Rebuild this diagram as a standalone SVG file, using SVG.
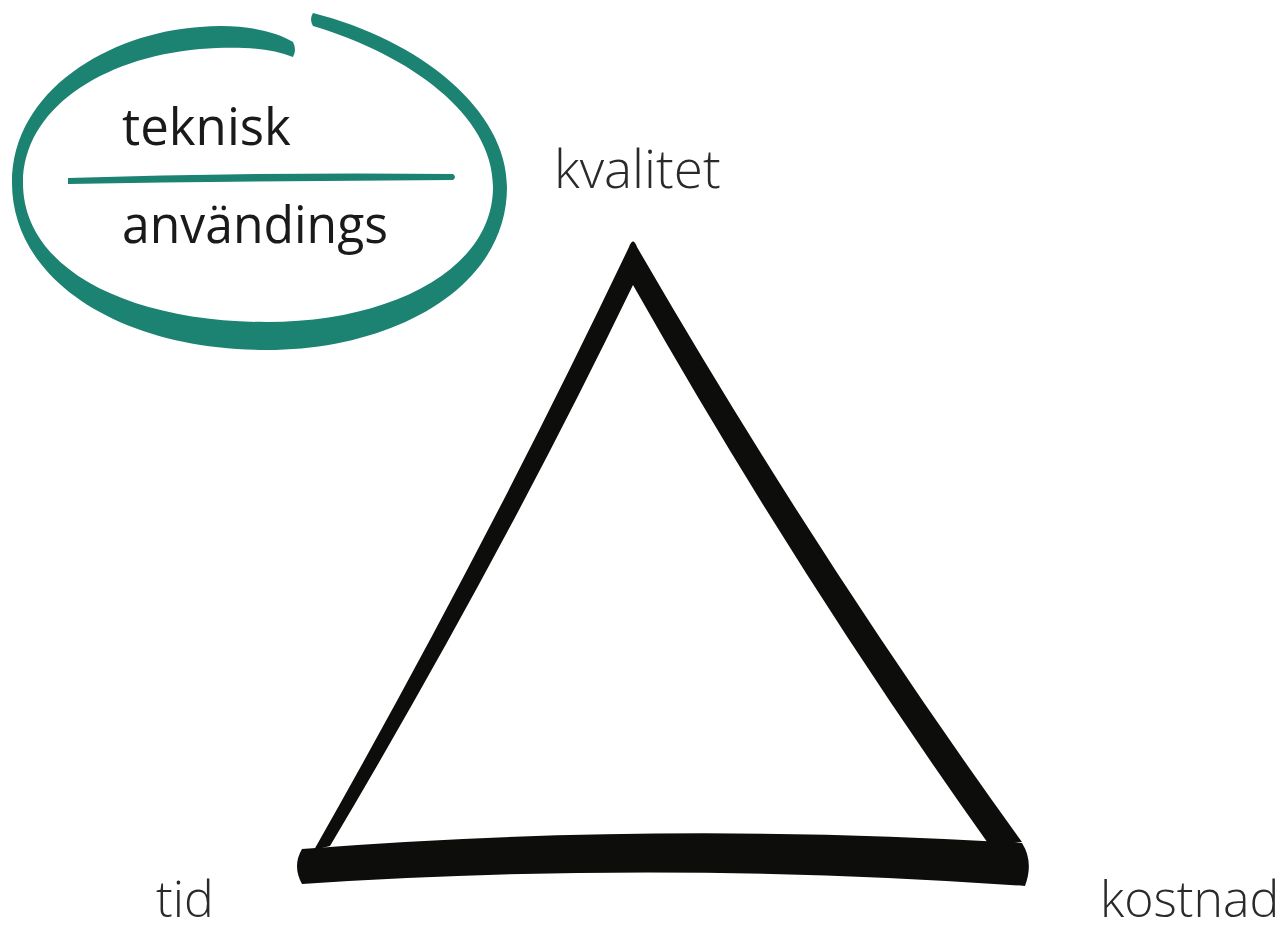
<svg xmlns="http://www.w3.org/2000/svg" width="1283" height="932" viewBox="0 0 1283 932">
<style>
.g{fill:#1c8272}
.k{fill:#0d0d0b}
.t{font-family:"Open Sans","DejaVu Sans",sans-serif;font-size:51px;fill:#1a1a1a}
.l{font-family:"Open Sans","DejaVu Sans",sans-serif;font-size:50px;font-weight:300;fill:#2a2a2a}
</style>
<rect width="1283" height="932" fill="#ffffff"/>
<g id="circle">
<path class="g" d="M 313,13 C 420,40 507,110 507,187 C 507,290 390,350 267,350 C 120,350 12,280 12,183 C 12,90 110,33 200,27 C 240,23 275,31 293,42 Q 297,50 293,57 C 270,48 240,46 200,49 C 100,58 23,110 23,183 C 23,270 130,322 267,322 C 390,322 493,270 493,187 C 493,115 410,55 313,26 Q 309,19 313,13 Z"/>
<path class="g" d="M 68,178 Q 260,172 453,174 Q 457,177 453,180 Q 260,181 68,184 Z"/>
<text class="t" x="122" y="145">teknisk</text>
<text class="t" x="122" y="243" textLength="266" lengthAdjust="spacingAndGlyphs">användings</text>
</g>
<g id="triangle">
<path class="k" d="M 314,850 Q 487,545 629,247 Q 633,236 637,247 Q 818,560 1022,842 L 990,846 Q 797,575 633,285 Q 500,560 330,846 Z"/>
<path class="k" d="M 302,849 Q 660,821 1022,843 Q 1034,862 1025,886 Q 660,860 302,884 Q 292,866 302,849 Z"/>
</g>
<g id="labels">
<text class="l" x="554" y="188" style="font-size:53px">kvalitet</text>
<text class="l" x="156" y="917">tid</text>
<text class="l" x="1100" y="917">kostnad</text>
</g>
</svg>
